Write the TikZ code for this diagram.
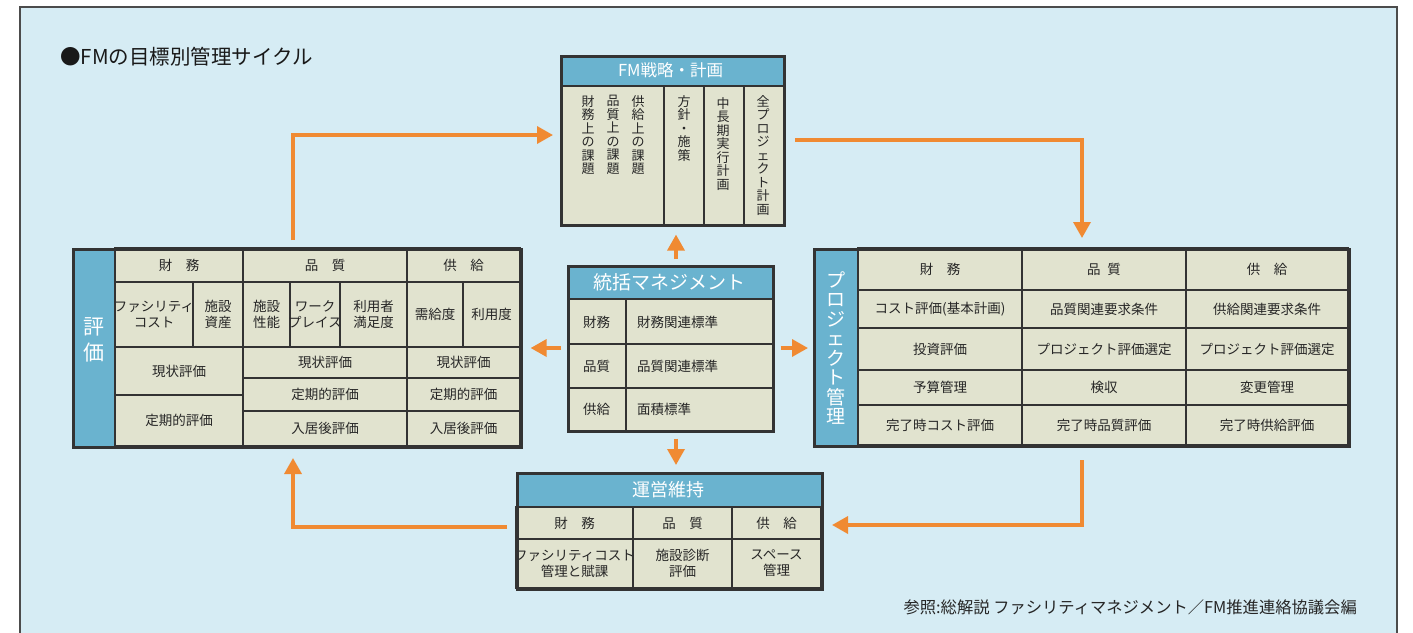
\documentclass[tikz,border=0pt]{standalone}
\usepackage{fontspec}
\setmainfont{Noto Sans CJK JP}
\usetikzlibrary{arrows.meta,calc}
\definecolor{bgblue}{HTML}{D6ECF4}
\definecolor{hdblue}{HTML}{6AB3CF}
\definecolor{cellc}{HTML}{E1E3CF}
\definecolor{arrowc}{HTML}{F08A32}
\definecolor{linec}{HTML}{333333}
\tikzset{
  cellline/.style={draw=linec, line width=1.1pt},
  outerline/.style={draw=linec, line width=2.6pt},
  ct/.style={font=\fontsize{13.5}{16}\selectfont, align=center, inner sep=0pt, text=black!85},
  hd/.style={font=\fontsize{18}{20}\selectfont, text=white, inner sep=0pt},
  vt/.style={font=\fontsize{13}{13.5}\selectfont, align=center, inner sep=0pt, anchor=north, text=black!85},
  sidet/.style={font=\fontsize{19}{19.5}\selectfont, align=center, inner sep=0pt, text=white},
  arr/.style={draw=arrowc, line width=3.4pt, -{Triangle[length=16pt,width=17pt]}},
}
\newcommand\cel[6]{\draw[cellline] (#2,#3) rectangle (#4,#5); \node[ct] (#1) at ({(#2+#4)/2},{(#3+#5)/2}) {#6};}
\newcommand\obox[5]{\node[outerline, minimum width={#4-#2}, minimum height={#5-#3}, inner sep=0pt, anchor=north west] (#1) at (#2,#3) {};}
\begin{document}
\begin{tikzpicture}[x=1pt,y=-1pt]
\useasboundingbox (0,0) rectangle (1413,632);
\fill[white] (0,0) rectangle (1413,632);
\fill[bgblue] (20,7) rectangle (1397,640);
\draw[black!70, line width=1.2pt] (20,640) -- (20,7) -- (1397,7) -- (1397,640);

\node[font=\fontsize{20.5}{22}\selectfont, anchor=west, inner sep=0pt, text=black!90] (title) at (60,57) {●FMの目標別管理サイクル};

% ---------- top box ----------
\fill[cellc] (560,55) rectangle (783,224);
\fill[hdblue] (560,55) rectangle (783,86);
\node[hd, font=\fontsize{16.5}{18}\selectfont] (tophd) at (670.5,70.5) {FM戦略・計画};
\draw[cellline] (560,86) -- (783,86);
\draw[cellline] (664,86) -- (664,224);
\draw[cellline] (704,86) -- (704,224);
\draw[cellline] (744,86) -- (744,224);
\node[vt] (t1) at (588,95) {財\\務\\上\\の\\課\\題};
\node[vt] (t2) at (613,95) {品\\質\\上\\の\\課\\題};
\node[vt] (t3) at (638,95) {供\\給\\上\\の\\課\\題};
\node[vt] (t4) at (684,95) {方\\針\\・\\施\\策};
\node[vt] (t5) at (723,97) {中\\長\\期\\実\\行\\計\\画};
\node[vt] (t6) at (763,95) {全\\プ\\ロ\\ジ\\ェ\\ク\\ト\\計\\画};
\obox{topbox}{560}{55}{783}{224}

% ---------- left box (評価) ----------
\fill[cellc] (72,248) rectangle (520,446);
\fill[hdblue] (72,248) rectangle (115,446);
\node[sidet, font=\fontsize{21}{26}\selectfont] (evalside) at (93.5,340) {評\\価};
\cel{e1}{115}{248}{243}{282}{財　務}
\cel{e2}{243}{248}{407}{282}{品　質}
\cel{e3}{407}{248}{520}{282}{供　給}
\cel{e4}{115}{282}{193}{347}{ファシリティ\\コスト}
\cel{e5}{193}{282}{243}{347}{施設\\資産}
\cel{e6}{243}{282}{290}{347}{施設\\性能}
\cel{e7}{290}{282}{340}{347}{ワーク\\プレイス}
\cel{e8}{340}{282}{407}{347}{利用者\\満足度}
\cel{e9}{407}{282}{463}{347}{需給度}
\cel{e10}{463}{282}{520}{347}{利用度}
\cel{e11}{115}{347}{243}{395}{現状評価}
\cel{e12}{115}{395}{243}{446}{定期的評価}
\cel{e13}{243}{347}{407}{378}{現状評価}
\cel{e14}{243}{378}{407}{411}{定期的評価}
\cel{e15}{243}{411}{407}{446}{入居後評価}
\cel{e16}{407}{347}{520}{378}{現状評価}
\cel{e17}{407}{378}{520}{411}{定期的評価}
\cel{e18}{407}{411}{520}{446}{入居後評価}
\draw[cellline] (115,248) -- (115,446);
\obox{evalbox}{72}{248}{520}{446}

% ---------- center box ----------
\fill[cellc] (567,265) rectangle (772,430);
\fill[hdblue] (567,265) rectangle (772,299);
\node[hd, font=\fontsize{19}{21}\selectfont] (cenhd) at (669.5,282) {統括マネジメント};
\draw[cellline] (567,299) -- (772,299);
\draw[cellline] (567,344) -- (772,344);
\draw[cellline] (567,388) -- (772,388);
\draw[cellline] (626,299) -- (626,430);
\node[ct] (c1) at (596.5,322) {財務};
\node[ct] (c2) at (596.5,366) {品質};
\node[ct] (c3) at (596.5,409) {供給};
\node[ct, anchor=west] (c4) at (637,322) {財務関連標準};
\node[ct, anchor=west] (c5) at (637,366) {品質関連標準};
\node[ct, anchor=west] (c6) at (637,409) {面積標準};
\obox{cenbox}{567}{265}{772}{430}

% ---------- right box (プロジェクト管理) ----------
\fill[cellc] (813,248) rectangle (1348,445);
\fill[hdblue] (813,248) rectangle (858,445);
\node[sidet] (projside) at (835.5,348) {プ\\ロ\\ジ\\ェ\\ク\\ト\\管\\理};
\cel{p1}{858}{248}{1022}{290}{財　務}
\cel{p2}{1022}{248}{1186}{290}{品\hspace{0.5em}質}
\cel{p3}{1186}{248}{1348}{290}{供　給}
\cel{p4}{858}{290}{1022}{328}{コスト評価(基本計画)}
\cel{p5}{1022}{290}{1186}{328}{品質関連要求条件}
\cel{p6}{1186}{290}{1348}{328}{供給関連要求条件}
\cel{p7}{858}{328}{1022}{370}{投資評価}
\cel{p8}{1022}{328}{1186}{370}{プロジェクト評価選定}
\cel{p9}{1186}{328}{1348}{370}{プロジェクト評価選定}
\cel{p10}{858}{370}{1022}{405}{予算管理}
\cel{p11}{1022}{370}{1186}{405}{検収}
\cel{p12}{1186}{370}{1348}{405}{変更管理}
\cel{p13}{858}{405}{1022}{445}{完了時コスト評価}
\cel{p14}{1022}{405}{1186}{445}{完了時品質評価}
\cel{p15}{1186}{405}{1348}{445}{完了時供給評価}
\obox{projbox}{813}{248}{1348}{445}

% ---------- bottom box (運営維持) ----------
\fill[cellc] (516,472) rectangle (821,588);
\fill[hdblue] (516,472) rectangle (821,507);
\node[hd] (ophd) at (668.5,489.5) {運営維持};
\draw[cellline] (516,507) -- (821,507);
\cel{o1}{516}{507}{633}{539}{財　務}
\cel{o2}{633}{507}{732}{539}{品　質}
\cel{o3}{732}{507}{821}{539}{供　給}
\cel{o4}{516}{539}{633}{588}{ファシリティコスト\\管理と賦課}
\cel{o5}{633}{539}{732}{588}{施設診断\\評価}
\cel{o6}{732}{539}{821}{588}{スペース\\管理}
\obox{opbox}{516}{472}{821}{588}

% ---------- arrows ----------
\coordinate (a1s) at (293,240);
\coordinate (a1e) at (553,135);
\coordinate (a2s) at (795,140);
\coordinate (a2e) at (1082,238);
\coordinate (a3s) at (1082,460);
\coordinate (a3e) at (832,525);
\coordinate (a4s) at (507,527);
\coordinate (a4e) at (293,458);
\draw[arr] (a1s) |- (a1e);
\draw[arr] (a2s) -| (a2e);
\draw[arr] (a3s) |- (a3e);
\draw[arr] (a4s) -| (a4e);
\draw[arr] ([yshift=6pt]cenbox.north -| 676,0) -- ([yshift=-8pt]topbox.south -| 676,0);
\draw[arr] ([xshift=-6pt]cenbox.west |- 0,348) -- ([xshift=8pt]evalbox.east |- 0,348);
\draw[arr] ([xshift=6pt]cenbox.east |- 0,348) -- ([xshift=-5pt]projbox.west |- 0,348);
\draw[arr] ([yshift=-6pt]cenbox.south -| 676,0) -- ([yshift=7pt]opbox.north -| 676,0);

\node[font=\fontsize{16.3}{18}\selectfont, anchor=east, inner sep=0pt, text=black!85] (note) at (1357,607) {参照:総解説 ファシリティマネジメント／FM推進連絡協議会編};
\end{tikzpicture}
\end{document}
